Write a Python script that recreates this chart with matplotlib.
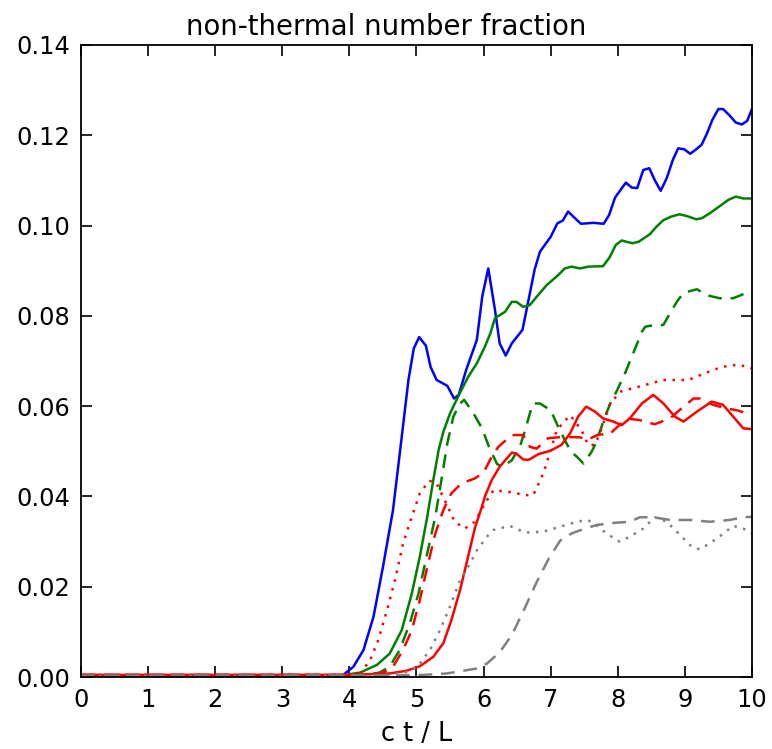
#!/usr/bin/env python3

import matplotlib
matplotlib.use("Agg")
from matplotlib import pyplot as plt

# blue solid
t_blue = [0, 3.9, 4.06, 4.21, 4.36, 4.5, 4.65, 4.78, 4.88, 4.96,
          5.04, 5.14, 5.21, 5.30, 5.46, 5.56, 5.63, 5.74, 5.90, 5.98,
          6.07, 6.17, 6.24, 6.33, 6.42, 6.58, 6.67, 6.76, 6.84, 7.0,
          7.1, 7.18, 7.26, 7.35, 7.45, 7.64, 7.79, 7.87, 7.96, 8.12,
          8.21, 8.29, 8.38, 8.47, 8.55, 8.64, 8.73, 8.82, 8.90, 8.99,
          9.08, 9.17, 9.25, 9.33, 9.41, 9.50, 9.57, 9.66, 9.76, 9.85,
          9.93, 10.0]
y_blue = [0.0004, 0.0004, 0.0023, 0.006, 0.0134, 0.0244, 0.037, 0.0532, 0.0658, 0.0728,
          0.0753, 0.0734, 0.0687, 0.0658, 0.0645, 0.0617, 0.0625, 0.068, 0.0747, 0.0843,
          0.0905, 0.0813, 0.0739, 0.0712, 0.0739, 0.0769, 0.0835, 0.0902, 0.0942, 0.0975,
          0.1005, 0.1011, 0.1031, 0.1018, 0.1004, 0.1006, 0.1004, 0.1023, 0.1062, 0.1095,
          0.1084, 0.1083, 0.1123, 0.1127, 0.1101, 0.1077, 0.1105, 0.1145, 0.1171, 0.1169,
          0.1159, 0.1169, 0.1179, 0.1204, 0.1234, 0.1258, 0.1258, 0.1245, 0.1228, 0.1224,
          0.1232, 0.1258]

# green solid
t_green = [0, 3.9, 4.16, 4.41, 4.6, 4.78, 4.93, 5.05, 5.16, 5.25,
           5.33, 5.40, 5.50, 5.62, 5.77, 5.90, 6.02, 6.10, 6.17, 6.32,
           6.42, 6.49, 6.59, 6.69, 6.79, 6.94, 7.11, 7.21, 7.31, 7.44,
           7.56, 7.78, 7.88, 7.97, 8.06, 8.13, 8.22, 8.31, 8.48, 8.58,
           8.68, 8.80, 8.92, 9.03, 9.17, 9.25, 9.37, 9.52, 9.65, 9.76,
           9.87, 10.0]
y_green = [0.0004, 0.0004, 0.001, 0.0027, 0.0052, 0.0104, 0.0185, 0.0267, 0.0355, 0.0436,
           0.0503, 0.0543, 0.0584, 0.0621, 0.0665, 0.0695, 0.0732, 0.0761, 0.0795, 0.0809,
           0.0831, 0.0831, 0.082, 0.0824, 0.0842, 0.0868, 0.089, 0.0905, 0.0909, 0.0905,
           0.0909, 0.091, 0.093, 0.0957, 0.0967, 0.0964, 0.0961, 0.0964, 0.0981, 0.0998,
           0.1012, 0.102, 0.1025, 0.1021, 0.1014, 0.1016, 0.1027, 0.1043, 0.1057, 0.1064,
           0.106, 0.106]

# green dashed
t_green_d = [0, 4.2, 4.45, 4.6, 4.75, 4.90, 5.03, 5.15, 5.28, 5.38,
             5.46, 5.55, 5.65, 5.71, 5.85, 5.98, 6.08, 6.2, 6.28, 6.42,
             6.54, 6.62, 6.69, 6.74, 6.84, 7.0, 7.11, 7.21, 7.30, 7.39,
             7.49, 7.61, 7.66, 7.76, 7.81, 7.91, 7.98, 8.1, 8.26, 8.36,
             8.41, 8.48, 8.68, 8.78, 8.88, 8.98, 9.18, 9.32, 9.52, 9.72,
             9.92, 10.0]
y_green_d = [0.0004, 0.0004, 0.001, 0.0023, 0.006, 0.0119, 0.0185, 0.0267, 0.0355, 0.0444,
             0.0518, 0.0577, 0.0606, 0.0614, 0.0584, 0.055, 0.051, 0.0472, 0.0466, 0.048,
             0.051, 0.0547, 0.0584, 0.0606, 0.0606, 0.0591, 0.0555, 0.0525, 0.05, 0.0488,
             0.0473, 0.0499, 0.0514, 0.0555, 0.0577, 0.0614, 0.0632, 0.067, 0.0728, 0.0765,
             0.0776, 0.0778, 0.078, 0.0806, 0.0831, 0.0851, 0.0859, 0.0846, 0.0839, 0.0839,
             0.0851, 0.0854]

# red solid
t_red = [0, 4.0, 4.6, 4.85, 5.05, 5.25, 5.40, 5.52, 5.65, 5.77,
         5.87, 5.97, 6.02, 6.12, 6.24, 6.42, 6.49, 6.59, 6.67, 6.82,
         6.99, 7.16, 7.29, 7.41, 7.53, 7.66, 7.78, 7.93, 8.06, 8.18,
         8.36, 8.53, 8.68, 8.85, 8.98, 9.18, 9.40, 9.57, 9.72, 9.87,
         10.0]
y_red = [0.0005, 0.0005, 0.0008, 0.0014, 0.0024, 0.0045, 0.0075, 0.0126, 0.0193, 0.0267,
         0.033, 0.0375, 0.040, 0.0436, 0.0466, 0.0497, 0.0495, 0.0482, 0.0481, 0.0494,
         0.0501, 0.0514, 0.054, 0.0577, 0.0599, 0.0588, 0.0573, 0.0566, 0.0558, 0.0573,
         0.0606, 0.0625, 0.0606, 0.0577, 0.0566, 0.0588, 0.061, 0.0603, 0.0577, 0.0551,
         0.0549]

# red dashed
t_red_d = [0, 4.3, 4.5, 4.65, 4.80, 4.93, 5.05, 5.15, 5.28, 5.40,
           5.52, 5.67, 5.87, 6.0, 6.12, 6.22, 6.42, 6.59, 6.69, 6.79,
           6.96, 7.19, 7.44, 7.54, 7.71, 7.88, 8.13, 8.33, 8.55, 8.78,
           8.95, 9.13, 9.22, 9.42, 9.57, 9.8, 10.0]
y_red_d = [0.0005, 0.0005, 0.001, 0.0023, 0.006, 0.0104, 0.0171, 0.0237, 0.0318, 0.037,
           0.0407, 0.0429, 0.044, 0.0453, 0.0488, 0.051, 0.0536, 0.0536, 0.051, 0.0506,
           0.0529, 0.0532, 0.0531, 0.0525, 0.0537, 0.0538, 0.0573, 0.0569, 0.056, 0.0573,
           0.0595, 0.0617, 0.0617, 0.0603, 0.0597, 0.059, 0.058]

# red dotted
t_red_o = [0, 4.0, 4.16, 4.31, 4.43, 4.56, 4.68, 4.80, 4.93, 5.05,
           5.19, 5.30, 5.42, 5.57, 5.72, 5.87, 6.02, 6.15, 6.39, 6.62,
           6.74, 6.89, 7.01, 7.09, 7.29, 7.46, 7.56, 7.66, 7.76, 7.88,
           8.03, 8.31, 8.68, 9.05, 9.30, 9.55, 9.80, 10.0]
y_red_o = [0.0005, 0.0005, 0.0008, 0.0038, 0.0082, 0.0148, 0.0215, 0.0296, 0.0355, 0.0407,
           0.0435, 0.0429, 0.0392, 0.0344, 0.0329, 0.0344, 0.0385, 0.0414, 0.041, 0.0403,
           0.0403, 0.0451, 0.0507, 0.0547, 0.058, 0.0547, 0.0514, 0.0514, 0.0551, 0.0603,
           0.0632, 0.0643, 0.0658, 0.0658, 0.0673, 0.0687, 0.0692, 0.0684]

# gray dashed
t_gray_d = [0, 5.0, 5.45, 5.9, 6.05, 6.24, 6.42, 6.59, 6.79, 6.97,
            7.14, 7.31, 7.49, 7.69, 7.98, 8.18, 8.33, 8.53, 8.78, 9.08,
            9.37, 9.67, 9.87, 10.0]
y_gray_d = [0.0003, 0.0004, 0.0008, 0.0019, 0.003, 0.0055, 0.0093, 0.0145, 0.021, 0.0262,
            0.0302, 0.0318, 0.0328, 0.0337, 0.0342, 0.0344, 0.0354, 0.0354, 0.0348, 0.0348,
            0.0344, 0.0348, 0.0354, 0.0355]

# gray dotted
t_gray_o = [0, 4.5, 4.9, 5.05, 5.2, 5.35, 5.50, 5.65, 5.80, 5.90,
            6.05, 6.15, 6.39, 6.62, 6.89, 7.14, 7.39, 7.54, 7.64, 7.83,
            8.03, 8.18, 8.38, 8.55, 8.73, 8.88, 9.10, 9.22, 9.37, 9.55,
            9.72, 9.87, 10.0]
y_gray_o = [0.0003, 0.0003, 0.0012, 0.003, 0.006, 0.0104, 0.0156, 0.0215, 0.0252, 0.0281,
            0.0311, 0.0326, 0.0335, 0.032, 0.0322, 0.0333, 0.0344, 0.0348, 0.0342, 0.0318,
            0.03, 0.0311, 0.0329, 0.0354, 0.0344, 0.0322, 0.0289, 0.0283, 0.0296, 0.0315,
            0.0335, 0.0329, 0.0318]

x_ticks = [0, 1, 2, 3, 4, 5, 6, 7, 8, 9, 10]
y_ticks = [0.00, 0.02, 0.04, 0.06, 0.08, 0.10, 0.12, 0.14]

dashed = (0, (5.5, 3.5))
dotted = (0, (1, 2.6))
lw = 1.8

fig = plt.figure(figsize=(7.72, 7.49), dpi=100)
ax = fig.add_axes([0.105, 0.096, 0.869, 0.844])

ax.plot(t_blue, y_blue, color='#0000ff', lw=lw)
ax.plot(t_green, y_green, color='#008000', lw=lw)
ax.plot(t_green_d, y_green_d, color='#008000', lw=lw, linestyle=dashed)
ax.plot(t_red, y_red, color='#ff0000', lw=lw)
ax.plot(t_red_d, y_red_d, color='#ff0000', lw=lw, linestyle=dashed)
ax.plot(t_red_o, y_red_o, color='#ff0000', lw=lw, linestyle=dotted)
ax.plot(t_gray_d, y_gray_d, color='#808080', lw=lw, linestyle=dashed)
ax.plot(t_gray_o, y_gray_o, color='#808080', lw=lw, linestyle=dotted)

ax.set_xlim(0, 10)
ax.set_ylim(0, 0.14)
ax.set_xticks(x_ticks)
ax.set_yticks(y_ticks)
ax.set_yticklabels(['%.2f' % v for v in y_ticks])
ax.tick_params(direction='in', top=True, right=True, length=8, width=1.2,
               labelsize=17.4, pad=8)
for sp in ax.spines.values():
    sp.set_linewidth(1.3)

ax.set_xlabel('c t / L', fontsize=18.4, labelpad=6)
# title sits centred on the figure, not on the axes
fig.text(0.5, 1 - 35 / 749, 'non-thermal number fraction', fontsize=19.8,
         ha='center', va='baseline')

fig.savefig('out.png', dpi=100)
